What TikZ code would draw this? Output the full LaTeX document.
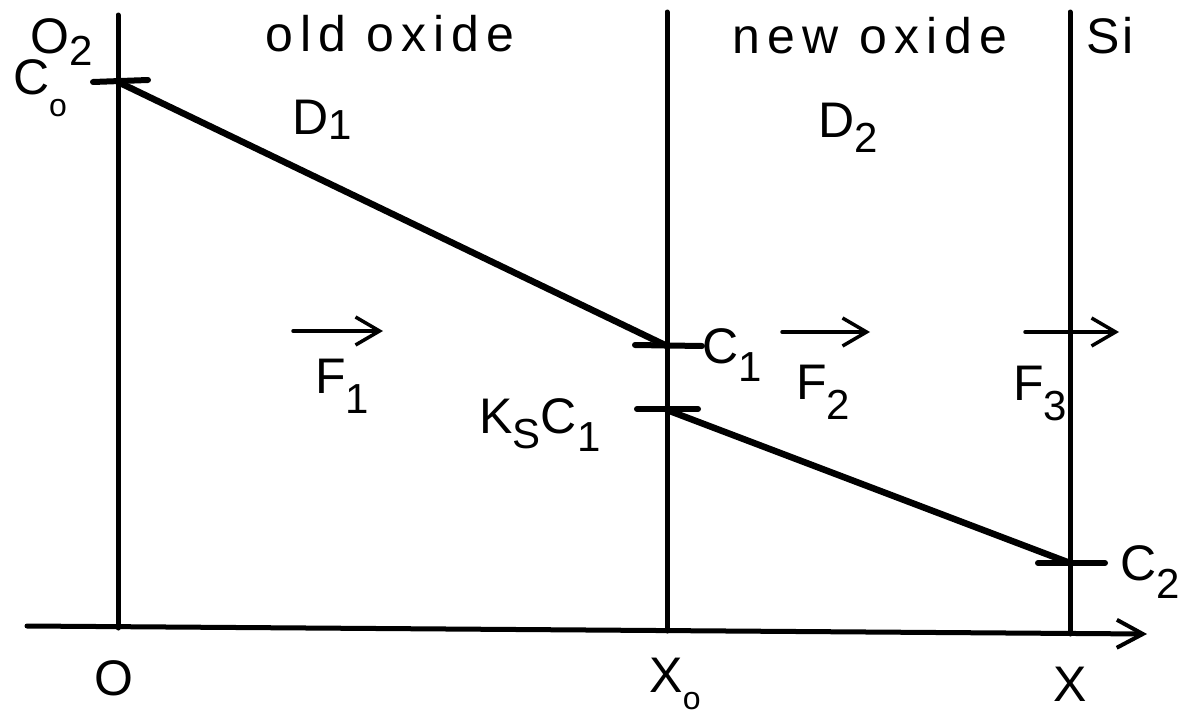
\documentclass[tikz,border=0pt]{standalone}
\usepackage{fontspec}
\setmainfont[LetterSpace=6]{Liberation Sans}
\usetikzlibrary{arrows.meta}
\newcommand\lowsub[2][-0.4em]{\raisebox{#1}{\fontsize{42}{42}\selectfont #2}}
\newcommand\circsub[1][-0.45em]{\raisebox{#1}{\fontsize{32}{32}\selectfont o}}
\begin{document}
\begin{tikzpicture}[x=1pt,y=-1pt,line cap=round,
  axisline/.style={line width=5pt},
  profile/.style={line width=6.5pt},
  tickmark/.style={line width=6pt},
  flux/.style={line width=3.5pt,-{Straight Barb[length=24pt,width=28pt,line width=3.5pt]}},
  lbl/.style={inner sep=0pt,font=\fontsize{50}{50}\selectfont},
  wide/.style={lbl,font=\fontsize{50}{50}\selectfont\addfontfeature{LetterSpace=14}}]
\useasboundingbox (0,0) rectangle (1188,720);
% coordinates
\coordinate (a0) at (27,626);
\coordinate (aE) at (1147,634);
\coordinate (v1t) at (118,15);  \coordinate (v1b) at (118,628);
\coordinate (v2t) at (667,12);  \coordinate (v2b) at (667,631);
\coordinate (v3t) at (1070,12); \coordinate (v3b) at (1070,634);
\coordinate (p0) at (118,82);   \coordinate (p1) at (667,346);
\coordinate (q1) at (667,410);  \coordinate (q2) at (1070,563);
\coordinate (t0a) at (93,82);   \coordinate (t0b) at (148,80);
\coordinate (t1a) at (635,345); \coordinate (t1b) at (702,346);
\coordinate (t2a) at (637,409); \coordinate (t2b) at (698,409);
\coordinate (t3a) at (1038,563); \coordinate (t3b) at (1105,563);
\coordinate (f1a) at (293,331); \coordinate (f1b) at (383,331);
\coordinate (f2a) at (782,332); \coordinate (f2b) at (870,332);
\coordinate (f3a) at (1025,332); \coordinate (f3b) at (1119,332);
% axes and boundaries
\draw[axisline,-{Straight Barb[length=26pt,width=28pt,line width=4pt]}] (a0) -- (aE);
\draw[axisline] (v1t) -- (v1b);
\draw[axisline] (v2t) -- (v2b);
\draw[axisline] (v3t) -- (v3b);
% profiles
\draw[profile] (p0) -- (p1);
\draw[profile] (q1) -- (q2);
% ticks
\draw[tickmark] (t0a) -- (t0b);
\draw[tickmark] (t1a) -- (t1b);
\draw[tickmark] (t2a) -- (t2b);
\draw[tickmark] (t3a) -- (t3b);
% fluxes
\draw[flux] (f1a) -- (f1b);
\draw[flux] (f2a) -- (f2b);
\draw[flux] (f3a) -- (f3b);
% labels
\node[lbl] (o2) at (62,42) {O\lowsub[-0.25em]{2}};
\node[lbl] (co) at (40,88) {C\circsub};
\node[wide] (old) at (390,34) {old oxide};
\node[lbl] (d1) at (322,120) {D\lowsub[-0.1em]{1}};
\node[wide] (new) at (870,36) {new oxide};
\node[lbl] (d2) at (848,128) {D\lowsub[-0.3em]{2}};
\node[lbl] (si) at (1110,36) {Si};
\node[lbl] (F1) at (342,386) {F\lowsub{1}};
\node[lbl] (c1) at (732,355) {C\lowsub[-0.35em]{1}};
\node[lbl] (F2) at (823,392) {F\lowsub{2}};
\node[lbl] (ksc1) at (540,425) {K\lowsub[-0.3em]{S}C\lowsub[-0.35em]{1}};
\node[lbl] (F3) at (1040,393) {F\lowsub{3}};
\node[lbl] (c2) at (1150,572) {C\lowsub[-0.35em]{2}};
\node[lbl] (o) at (114,678) {O};
\node[lbl] (xo) at (675,684) {X\circsub[-0.35em]};
\node[lbl] (x) at (1070,684) {X};
\end{tikzpicture}
\end{document}
